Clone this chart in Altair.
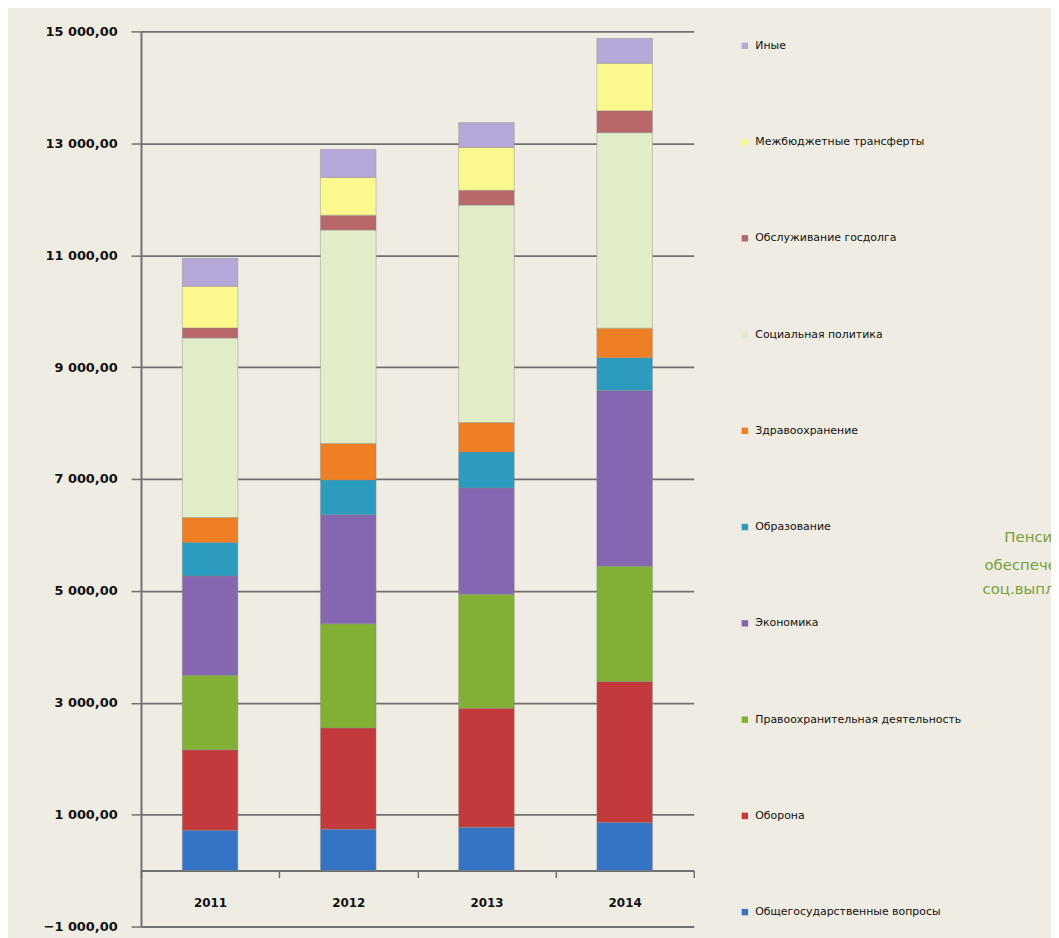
import altair as alt
import pandas as pd

years = ["2011", "2012", "2013", "2014"]

# stacking order: bottom -> top
categories = [
    "Общегосударственные вопросы",
    "Оборона",
    "Правоохранительная деятельность",
    "Экономика",
    "Образование",
    "Здравоохранение",
    "Социальная политика",
    "Обслуживание госдолга",
    "Межбюджетные трансферты",
    "Иные",
]

colors = [
    "#3573C4",
    "#C4393B",
    "#82B034",
    "#8466B1",
    "#2B9CC0",
    "#EE7F24",
    "#E1EDC9",
    "#B8686A",
    "#FBF98E",
    "#B5A8D8",
]

v2011 = [720, 1440, 1330, 1775, 600, 445, 3210, 180, 745, 500]
v2012 = [740, 1810, 1860, 1950, 620, 655, 3815, 265, 675, 500]
v2013 = [775, 2125, 2040, 1900, 640, 530, 3885, 265, 765, 445]
v2014 = [860, 2520, 2060, 3140, 585, 530, 3495, 390, 850, 445]

y_ticks = [-1000, 1000, 3000, 5000, 7000, 9000, 11000, 13000, 15000]

rows = []
for year, vals in zip(years, [v2011, v2012, v2013, v2014]):
    for i, (cat, v) in enumerate(zip(categories, vals)):
        rows.append({"year": year, "cat": cat, "idx": i, "value": v})
df = pd.DataFrame(rows)

legend_order = list(reversed(categories))
legend_colors = list(reversed(colors))

W, H = 557, 902
FONT = "DejaVu Sans"
GRID = "#707070"

bars = alt.Chart(df).mark_bar(size=56, stroke="#8C8C80", strokeWidth=0.6, strokeOpacity=0.7).encode(
    x=alt.X(
        "year:N",
        title=None,
        scale=alt.Scale(paddingInner=0, paddingOuter=0),
        axis=alt.Axis(
            labelAngle=0,
            labelFont=FONT,
            labelFontSize=12,
            labelFontWeight="bold",
            labelColor="#111111",
            labelPadding=20,
            tickBand="extent",
            tickSize=7,
            tickColor=GRID,
            tickWidth=1.5,
            domainColor=GRID,
            domainWidth=2,
            offset=-56.4,
            grid=False,
        ),
    ),
    y=alt.Y(
        "value:Q",
        stack="zero",
        title=None,
        scale=alt.Scale(domain=[-1000, 15000], nice=False, zero=False),
        axis=alt.Axis(
            values=y_ticks,
            labelExpr="replace(replace(format(datum.value, ',.2f'), ',', ' '), '.', ',')",
            labelFont=FONT,
            labelFontSize=13,
            labelFontWeight="bold",
            labelColor="#111111",
            labelPadding=14,
            tickSize=10,
            tickColor=GRID,
            tickWidth=1.5,
            domainColor=GRID,
            domainWidth=2,
            grid=True,
            gridColor=GRID,
            gridWidth=1.8,
        ),
    ),
    color=alt.Color(
        "cat:N",
        scale=alt.Scale(domain=legend_order, range=legend_colors),
        sort=legend_order,
        legend=alt.Legend(
            title=None,
            orient="none",
            legendX=603,
            legendY=9,
            padding=0,
            symbolType="square",
            symbolSize=42,
            symbolStrokeWidth=0,
            labelFont=FONT,
            labelFontSize=11,
            labelColor="#111111",
            labelOffset=5,
            labelLimit=400,
            rowPadding=85,
        ),
    ),
    order=alt.Order("idx:Q", sort="ascending"),
)

note_style = dict(font=FONT, fontSize=15, color="#78A03A", align="left", baseline="middle")
note1 = alt.Chart(pd.DataFrame({"t": ["Пенсионное"]})).mark_text(**note_style).encode(
    text="t:N", x=alt.value(870), y=alt.value(510)
)
note2 = alt.Chart(pd.DataFrame({"t": ["обеспечение,"]})).mark_text(**note_style).encode(
    text="t:N", x=alt.value(850), y=alt.value(538)
)
note3 = alt.Chart(pd.DataFrame({"t": ["соц.выплаты"]})).mark_text(**note_style).encode(
    text="t:N", x=alt.value(848), y=alt.value(562)
)

chart = alt.layer(bars, note1, note2, note3).properties(
    width=W,
    height=H,
    autosize=alt.AutoSizeParams(type="none"),
    padding={"left": 134, "top": 20, "right": 360, "bottom": 8},
    background="#EEECE3",
).configure_view(stroke=None)

chart.save("out.html", embed_options={"renderer": "svg", "actions": False})
